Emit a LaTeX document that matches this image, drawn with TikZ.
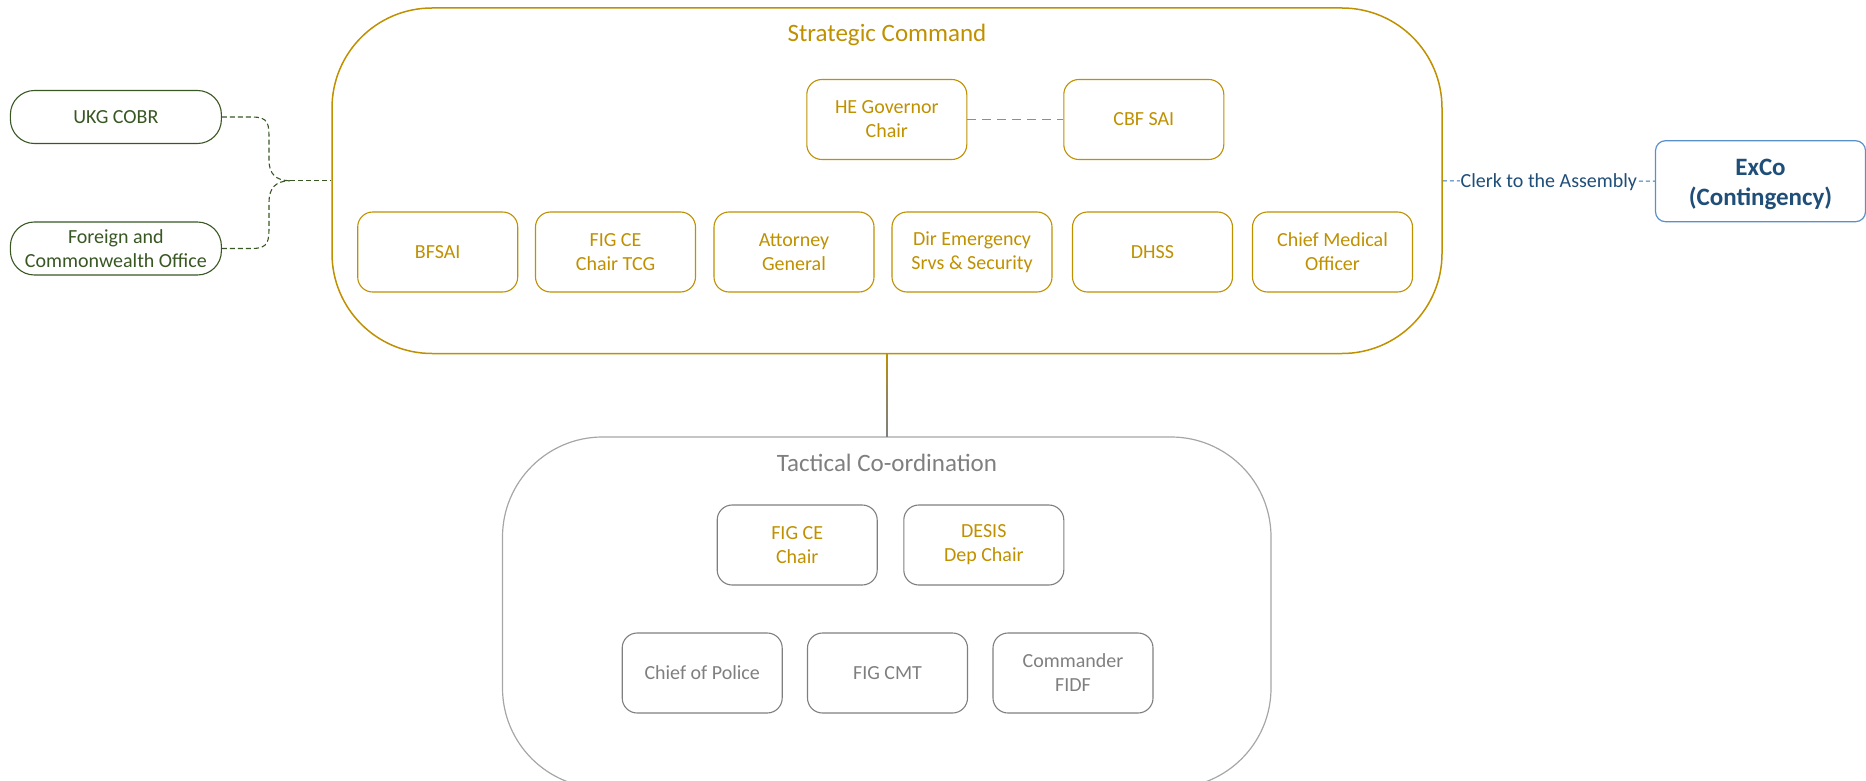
\documentclass[tikz,border=0pt]{standalone}
\usepackage{fontspec}
\setmainfont{Carlito}
\usetikzlibrary{calc}

\definecolor{gold}{HTML}{BF9000}
\definecolor{leaf}{HTML}{385723}
\definecolor{midgray}{HTML}{7F7F7F}
\definecolor{lightgray}{HTML}{A6A6A6}
\definecolor{navy}{HTML}{1F4E79}
\definecolor{skyline}{HTML}{5B8FC9}
\definecolor{linkblue}{HTML}{2E75B6}

\tikzset{
  card/.style={draw, rounded corners=15pt, minimum width=160pt, minimum height=80pt,
    align=center, inner sep=0pt, line width=1.1pt,
    font=\fontsize{20}{24}\selectfont},
  goldcard/.style={card, draw=gold, text=gold},
  graycard/.style={card, draw=midgray, text=midgray},
  mixcard/.style={card, draw=midgray, text=gold},
  pill/.style={draw=leaf, text=leaf, rounded corners=24pt, minimum width=211pt,
    minimum height=53pt, align=center, inner sep=0pt, line width=1.1pt,
    font=\fontsize{20}{24}\selectfont},
  group/.style={rounded corners=100pt, inner sep=0pt},
  grouptitle/.style={font=\fontsize{25}{30}\selectfont, inner sep=0pt},
  dashlink/.style={dash pattern=on 9pt off 6pt, line width=1.1pt},
}

\begin{document}
\begin{tikzpicture}[x=1pt, y=-1pt]
\useasboundingbox (0,0) rectangle (1866,781);

% command groups
\node[group, draw=gold, line width=1.5pt, minimum width=1110pt, minimum height=345.5pt]
  (sc) at (887,180.75) {};
\node[grouptitle, text=gold] (sctitle) at (887,35) {Strategic Command};

\node[group, draw=lightgray, line width=1.2pt, minimum width=768.5pt, minimum height=351pt]
  (tc) at (886.75,612.5) {};
\node[grouptitle, text=midgray] (tctitle) at (887,463) {Tactical Co-ordination};

% link between the two levels, fading from gold to gray
\shade[top color=gold, bottom color=midgray, middle color=gray!70!gold]
  ($(sc.south)+(-1,0)$) rectangle ($(tc.north)+(1,0)$);

% strategic members
\node[goldcard] (gov) at (886.8,119.5) {HE Governor\\Chair};
\node[goldcard] (cbf) at (1143.8,119.5) {CBF SAI};
\draw[gold, dashlink] (gov.east) -- (cbf.west);

\node[goldcard] (bfsai) at (437.7,252) {BFSAI};
\node[goldcard] (figtcg) at (615.5,252) {FIG CE\\Chair TCG};
\node[goldcard] (ag) at (794,252) {Attorney\\General};
\node[goldcard] (dess) at (972,252) {Dir Emergency\\Srvs \& Security};
\node[goldcard] (dhss) at (1152.5,252) {DHSS};
\node[goldcard] (cmo) at (1332.5,252) {Chief Medical\\Officer};

% tactical members
\node[mixcard] (figchair) at (797.2,545) {FIG CE\\Chair};
\node[mixcard] (desis) at (983.8,545) {DESIS\\Dep Chair};
\node[graycard] (police) at (702.2,673) {Chief of Police};
\node[graycard] (cmt) at (887.5,673) {FIG CMT};
\node[graycard] (fidf) at (1073,673) {Commander\\FIDF};

% UK government links
\node[pill] (cobr) at (115.9,117) {UKG COBR};
\node[pill] (fco) at (115.9,248.5) {Foreign and\\Commonwealth Office};
\coordinate (join) at (290,180.75);
\begin{scope}[leaf, line width=1.1pt, dash pattern=on 5pt off 3pt]
  \draw (cobr.east) -- (252,117) .. controls (269,117) and (269,124) .. (269,140)
        -- (269,160) .. controls (269,174) and (276,180.75) .. (join);
  \draw (fco.east) -- (252,248.5) .. controls (269,248.5) and (269,241) .. (269,225)
        -- (269,202) .. controls (269,188) and (276,180.75) .. (join);
  \draw (join) -- (sc.west);
\end{scope}

% executive council
\node[draw=skyline, rounded corners=10pt, minimum width=210pt, minimum height=81pt,
  inner sep=0pt, line width=1.2pt,
  label={[text=navy, align=center, yshift=-3pt, font=\fontsize{25}{30.5}\selectfont\bfseries]center:{ExCo\\(Contingency)}}]
  (exco) at (1760.5,181.2) {};
\draw[linkblue, line width=1pt, dash pattern=on 4pt off 3pt] (sc.east) --
  node[fill=white, text=navy, inner sep=1pt, yshift=-1.5pt, font=\fontsize{20}{24}\selectfont]
  (clerk) {Clerk to the Assembly} (exco.west);
\end{tikzpicture}
\end{document}
